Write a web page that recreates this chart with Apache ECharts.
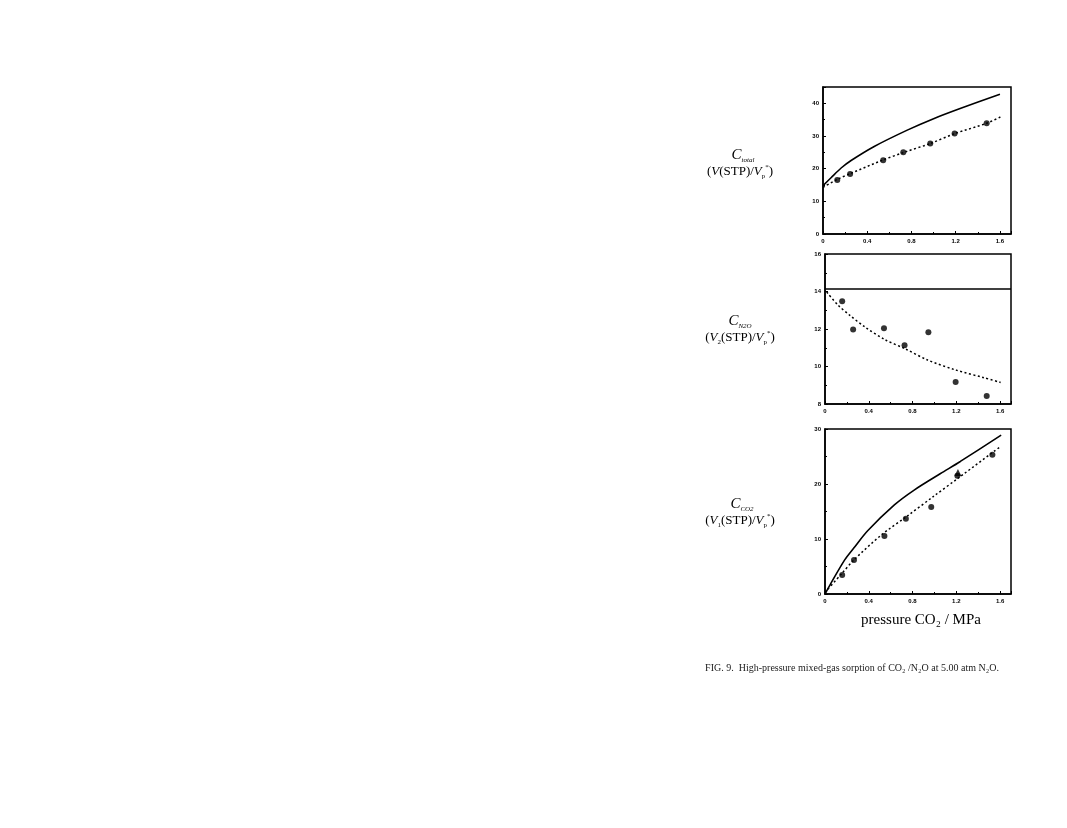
<!DOCTYPE html>
<html>
<head>
<meta charset="utf-8">
<script src="https://cdn.jsdelivr.net/npm/echarts@6/dist/echarts.min.js"></script>
<style>
html,body{margin:0;padding:0;background:#fff;}
#c{width:1067px;height:828px;}
</style>
</head>
<body>
<div id="c"></div>
<script>
// ---- axis ticks ----
const xTicks = [0, 0.4, 0.8, 1.2, 1.6];
const xMax = 1.7;
const p1YTicks = [0, 10, 20, 30, 40];
const p2YTicks = [8, 10, 12, 14, 16];
const p3YTicks = [0, 10, 20, 30];

// ---- panel 1: C_total ----
const p1PtsX = [0.129, 0.245, 0.544, 0.726, 0.97, 1.19, 1.48];
const p1PtsY = [16.5, 18.4, 22.6, 25.0, 27.7, 30.8, 33.9];
const p1SolidX = [0, 0.075, 0.164, 0.254, 0.463, 0.762, 1.0, 1.24, 1.6];
const p1SolidY = [14.8, 17.3, 20.2, 22.5, 26.8, 31.8, 35.3, 38.4, 42.8];
const p1DashX = [0, 0.134, 0.254, 0.538, 0.733, 0.97, 1.196, 1.48, 1.614];
const p1DashY = [14.3, 16.8, 18.6, 22.6, 25.0, 27.7, 30.8, 33.9, 36.0];

// ---- panel 2: C_N2O ----
const p2PtsX = [0.157, 0.257, 0.539, 0.727, 0.945, 1.194, 1.478];
const p2PtsY = [13.48, 11.97, 12.04, 11.14, 11.83, 9.17, 8.43];
const p2SolidX = [0, 1.7];
const p2SolidY = [14.13, 14.13];
const p2DashX = [0.015, 0.12, 0.227, 0.364, 0.545, 0.727, 0.94, 1.197, 1.455, 1.605];
const p2DashY = [13.97, 13.27, 12.73, 12.11, 11.44, 10.96, 10.34, 9.81, 9.40, 9.15];

// ---- panel 3: C_CO2 ----
const p3PtsX = [0.157, 0.265, 0.543, 0.739, 0.971, 1.21, 1.53];
const p3PtsY = [3.46, 6.2, 10.56, 13.66, 15.8, 21.5, 25.3];
const p3TriX = [1.215];
const p3TriY = [22.1];
const p3SolidX = [0, 0.05, 0.18, 0.265, 0.39, 0.634, 0.815, 1.056, 1.237, 1.61];
const p3SolidY = [0, 1.8, 6.2, 8.4, 11.5, 16.2, 18.9, 21.9, 24.1, 28.9];
const p3DashX = [0, 0.157, 0.265, 0.513, 0.754, 0.995, 1.213, 1.61];
const p3DashY = [0.3, 3.8, 6.2, 10.7, 14.2, 17.8, 21.0, 26.9];

const zip = (a, b) => a.map((v, i) => [v, b[i]]);

const chart = echarts.init(document.getElementById('c'), null, {renderer: 'canvas'});

const tickFont = {fontSize: 6, fontWeight: 'bold', color: '#000', fontFamily: 'Liberation Sans'};

function xAxis(idx) {
  return {
    type: 'value', gridIndex: idx, min: 0, max: xMax, interval: 0.4,
    axisLine: {show: true, onZero: false, lineStyle: {color: '#000', width: 1.5}},
    axisTick: {show: true, inside: true, length: 3, lineStyle: {color: '#000', width: 1}},
    minorTick: {show: true, splitNumber: 2, length: 2, lineStyle: {color: '#000'}},
    splitLine: {show: false},
    axisLabel: Object.assign({margin: 4, showMaxLabel: false,
      formatter: v => (v === 0 ? '0' : v.toFixed(1))}, tickFont)
  };
}
function yAxis(idx, min, max) {
  return {
    type: 'value', gridIndex: idx, min: min, max: max, interval: (idx === 1 ? 2 : 10),
    axisLine: {show: true, onZero: false, lineStyle: {color: '#000', width: 1.5}},
    axisTick: {show: true, inside: true, length: 3, lineStyle: {color: '#000', width: 1}},
    minorTick: {show: true, splitNumber: 2, length: 2, lineStyle: {color: '#000'}},
    splitLine: {show: false},
    axisLabel: Object.assign({margin: 4, showMaxLabel: idx === 0 ? false : true}, tickFont)
  };
}

function solid(idx, xs, ys) {
  return {type: 'line', xAxisIndex: idx, yAxisIndex: idx, data: zip(xs, ys),
    smooth: 0.3, showSymbol: false, silent: true,
    lineStyle: {color: '#000', width: 1.6}};
}
function dashed(idx, xs, ys) {
  return {type: 'line', xAxisIndex: idx, yAxisIndex: idx, data: zip(xs, ys),
    smooth: 0.3, showSymbol: false, silent: true,
    lineStyle: {color: '#000', width: 1.5, type: [2, 2.5]}};
}
function pts(idx, xs, ys, sym, size) {
  return {type: 'scatter', xAxisIndex: idx, yAxisIndex: idx, data: zip(xs, ys),
    symbol: sym || 'circle', symbolSize: size || 6, silent: true,
    itemStyle: {color: '#000'}};
}

const serif = 'Liberation Serif';
function labelRich() {
  return {
    c: {fontFamily: serif, fontStyle: 'italic', fontSize: 15, color: '#000', verticalAlign: 'middle'},
    s: {fontFamily: serif, fontStyle: 'italic', fontSize: 7, color: '#000', verticalAlign: 'bottom', lineHeight: 18},
    n: {fontFamily: serif, fontSize: 13, color: '#000', verticalAlign: 'middle'},
    i: {fontFamily: serif, fontStyle: 'italic', fontSize: 13, color: '#000', verticalAlign: 'middle'},
    sb: {fontFamily: serif, fontSize: 7, color: '#000', verticalAlign: 'bottom', lineHeight: 16},
    sp: {fontFamily: serif, fontSize: 7, color: '#000', verticalAlign: 'top', lineHeight: 16}
  };
}
function txt(x, y, str) {
  return {type: 'text', x: x, y: y, silent: true,
    style: {text: str, rich: labelRich(), align: 'center', verticalAlign: 'middle'}};
}

chart.setOption({
  animation: false,
  backgroundColor: '#fff',
  grid: [
    {left: 823, top: 87, width: 188, height: 147, show: true, borderColor: '#000', borderWidth: 1.5},
    {left: 825, top: 254, width: 186, height: 150, show: true, borderColor: '#000', borderWidth: 1.5},
    {left: 825, top: 429, width: 186, height: 165, show: true, borderColor: '#000', borderWidth: 1.5}
  ],
  xAxis: [xAxis(0), xAxis(1), xAxis(2)],
  yAxis: [yAxis(0, 0, 45), yAxis(1, 8, 16), yAxis(2, 0, 30)],
  series: [
    solid(0, p1SolidX, p1SolidY), dashed(0, p1DashX, p1DashY), pts(0, p1PtsX, p1PtsY),
    solid(1, p2SolidX, p2SolidY), dashed(1, p2DashX, p2DashY), pts(1, p2PtsX, p2PtsY),
    solid(2, p3SolidX, p3SolidY), dashed(2, p3DashX, p3DashY), pts(2, p3PtsX, p3PtsY),
    pts(2, p3TriX, p3TriY, 'triangle', 7)
  ],
  graphic: [
    txt(743, 155, '{c|C}{s|total}'),
    txt(740, 172, '{n|(}{i|V}{n|(STP)/}{i|V}{sb|p}{sp|*}{n|)}'),
    txt(740, 321, '{c|C}{s|N2O}'),
    txt(740, 338, '{n|(}{i|V}{sb|2}{n|(STP)/}{i|V}{sb|p}{sp|*}{n|)}'),
    txt(742, 504, '{c|C}{s|CO2}'),
    txt(740, 521, '{n|(}{i|V}{sb|1}{n|(STP)/}{i|V}{sb|p}{sp|*}{n|)}'),
    {type: 'text', x: 921, y: 620, silent: true,
      style: {text: 'pressure CO₂ / MPa', fontFamily: serif, fontSize: 15, fill: '#000',
        align: 'center', verticalAlign: 'middle'}},
    {type: 'text', x: 852, y: 668, silent: true,
      style: {text: 'FIG. 9.  High-pressure mixed-gas sorption of CO₂ /N₂O at 5.00 atm N₂O.',
        fontFamily: serif, fontSize: 10, fill: '#222', align: 'center', verticalAlign: 'middle'}}
  ]
});
</script>
</body>
</html>
